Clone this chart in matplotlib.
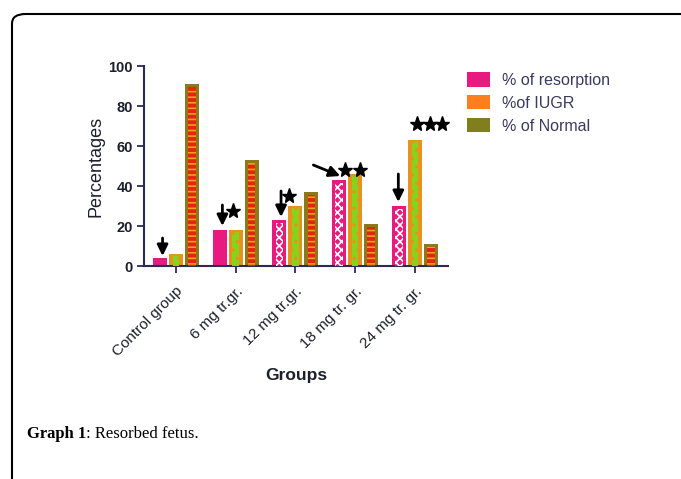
import matplotlib
matplotlib.use("Agg")
import matplotlib.pyplot as plt
from matplotlib.patches import FancyBboxPatch
from matplotlib.transforms import ScaledTranslation
import numpy as np

# ---- data ----
groups = ["Control group", "6 mg tr.gr.", "12 mg tr.gr.", "18 mg tr. gr.", "24 mg tr. gr."]
resorption = [4, 18, 23, 43, 30]
iugr = [6, 18, 30, 46, 63]
normal = [91, 53, 37, 21, 11]
series_names = ["% of resorption", "%of IUGR", "% of Normal"]
y_ticks = [0, 20, 40, 60, 80, 100]
# significance arrows: (group, x offset of tail, tail y, x offset of head, head y)
arrows = [(0, -0.22, 14.0, -0.22, 5.0),
          (1, -0.22, 30.5, -0.22, 20.0),
          (2, -0.24, 37.5, -0.24, 24.5),
          (3, -0.70, 50.5, -0.25, 45.0),
          (4, -0.28, 46.0, -0.28, 32.0)]
# significance stars: (group, x offset, y)
stars = [(1, -0.05, 27.5),
         (2, -0.10, 35.0),
         (3, -0.17, 48.0), (3, 0.08, 48.0),
         (4, 0.03, 71.0), (4, 0.25, 71.0), (4, 0.45, 71.0)]

PINK = "#E8197F"
ORANGE = "#E8921E"
GREEN = "#86D31C"
OLIVE = "#8A7A1C"
RED = "#E3260E"
SPINE = "#2B2B55"
TXT = "#1E1E2E"

plt.rcParams["font.family"] = ["Liberation Sans", "DejaVu Sans"]
plt.rcParams["hatch.linewidth"] = 1.2

fig = plt.figure(figsize=(6.81, 4.79), dpi=100)
fig.patch.set_facecolor("white")

# frame around the figure panel
frame = FancyBboxPatch((12 / 681, 1 - 14 / 479 - 1.2), 1.2, 1.2,
                       boxstyle="round,pad=0,rounding_size=0.02",
                       transform=fig.transFigure, fill=False, ec="black", lw=1.5)
fig.patches.append(frame)

ax = fig.add_axes([144 / 681, 1 - 266 / 479, (448 - 144) / 681, 200 / 479])
x = np.arange(len(groups))
w = 0.235
off = 0.267

# % of resorption: solid for first two groups, white check pattern for the rest
for i, v in enumerate(resorption):
    xc = x[i] - off
    ax.bar(xc, v, width=w, color=PINK, edgecolor=PINK, lw=0, zorder=2)
    if i >= 2:
        ax.bar(xc, v - 1.5, width=w * 0.55, color=PINK, edgecolor="white",
               hatch="xxxx", lw=0, zorder=3)

# %of IUGR: orange bar with green dotted centre
ax.bar(x, iugr, width=w, color=ORANGE, lw=0, zorder=2)
ax.bar(x, np.array(iugr) - 1.0, width=w * 0.45, color=GREEN, edgecolor=ORANGE,
       hatch="..", lw=0, zorder=3)

# % of Normal: olive bar with red striped centre
ax.bar(x + off, normal, width=w, color=OLIVE, lw=0, zorder=2)
ax.bar(x + off, np.array(normal) - 1.5, width=w * 0.55, color=RED, edgecolor="#F0A020",
       hatch="---", lw=0, zorder=3)

# legend proxies
for name, c in zip(series_names, [PINK, "#FF7F1E", "#7F7F1E"]):
    ax.bar(0, 0, color=c, label=name)

ax.set_xlim(-0.53, 4.55)
ax.set_ylim(0, 100)
ax.set_yticks(y_ticks)
ax.set_yticklabels([str(t) for t in y_ticks], fontsize=10.5, fontweight="bold", color=TXT)
ax.set_xticks(x)
ax.set_xticklabels(groups, rotation=45, ha="right", va="top", rotation_mode="anchor",
                   fontsize=11, color=TXT)
for lab in ax.get_xticklabels():
    lab.set_transform(lab.get_transform() + ScaledTranslation(4 / 100, 0, fig.dpi_scale_trans))

for s in ["top", "right"]:
    ax.spines[s].set_visible(False)
for s in ["left", "bottom"]:
    ax.spines[s].set_color(SPINE)
    ax.spines[s].set_linewidth(1.5)
ax.tick_params(axis="both", color=SPINE, width=1.3, length=5, direction="out")
ax.tick_params(axis="x", pad=8)
ax.tick_params(axis="y", pad=3)

ax.set_ylabel("Percentages", fontsize=13, color=TXT, labelpad=3)
ax.set_xlabel("Groups", fontsize=12.5, fontweight="bold", color=TXT, labelpad=6)

# arrows and stars
for gi, dx0, y0, dx1, y1 in arrows:
    ax.annotate("", xy=(x[gi] + dx1, y1), xytext=(x[gi] + dx0, y0),
                arrowprops=dict(arrowstyle="-|>,head_length=0.65,head_width=0.32",
                                color="black", lw=2.0, mutation_scale=10,
                                shrinkA=0, shrinkB=0), zorder=5)
sx = [x[g] + dx for g, dx, _ in stars]
sy = [yy for _, _, yy in stars]
ax.plot(sx, sy, ls="none", marker="*", ms=11, color="black", mec="black", zorder=6,
        clip_on=False)

leg = ax.legend(loc="upper left", bbox_to_anchor=(1.04, 1.0), frameon=False,
                fontsize=11.5, handlelength=1.45, handleheight=1.0, handletextpad=0.75,
                labelspacing=0.45, borderaxespad=0)
for t in leg.get_texts():
    t.set_color("#3A3A60")

# caption
renderer = fig.canvas.get_renderer()
t1 = fig.text(27 / 681, 1 - 438 / 479, "Graph 1", family="Liberation Serif",
              fontweight="bold", fontsize=12, va="baseline", color="black")
bb = t1.get_window_extent(renderer)
fig.text(bb.x1 / fig.bbox.width, 1 - 438 / 479, ": Resorbed fetus.", family="Liberation Serif",
         fontsize=12, va="baseline", color="black")

fig.savefig("out.png", dpi=100)
